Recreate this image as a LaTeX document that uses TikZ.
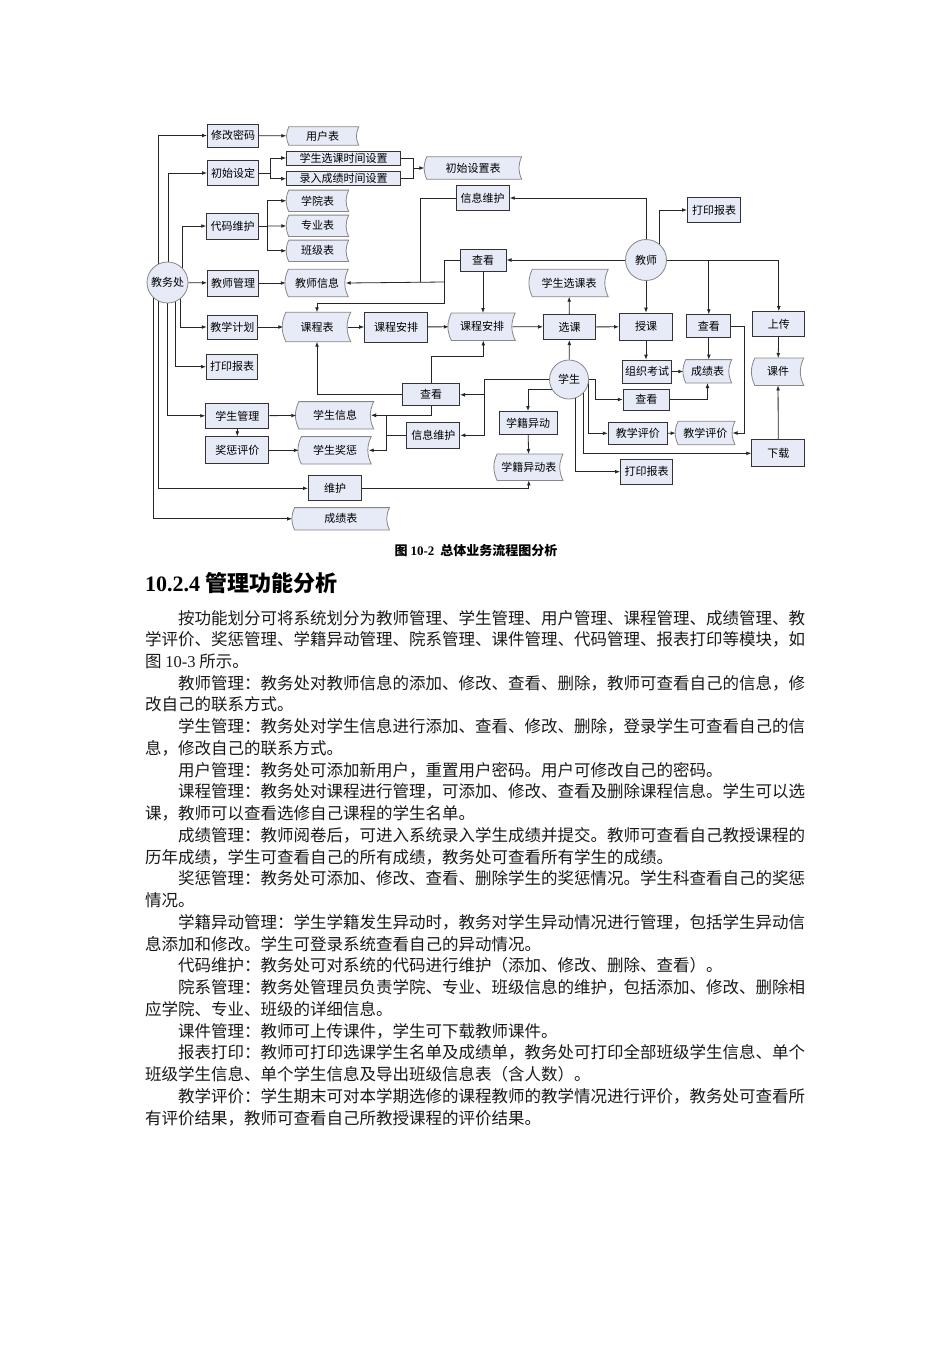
\documentclass[tikz,border=0pt]{standalone}
\usepackage{fontspec}
\setmainfont{Noto Sans CJK SC}
\newfontfamily\tnr{Liberation Serif}
\usetikzlibrary{positioning,arrows.meta,backgrounds,calc}
\XeTeXlinebreaklocale "zh"
\XeTeXlinebreakskip=0pt plus 2pt
\definecolor{boxfill}{RGB}{231,235,247}
\definecolor{rim}{RGB}{135,135,135}
% full lines of the body text
\newcommand{\jl}[1]{\hbox to 661pt{#1}}
\newcommand{\ji}[1]{\hbox to 628pt{#1}}

\begin{document}
\begin{tikzpicture}[
  x=1pt,y=-1pt,
  font=\fontsize{11pt}{12pt}\selectfont,
  n/.style={draw=black!80,line width=1pt,fill=boxfill,minimum height=25pt,inner sep=0pt,align=center},
  db/.style={minimum height=22pt,inner sep=0pt,align=center},
  ent/.style={circle,draw=rim,line width=0.8pt,fill=boxfill,minimum size=41pt,inner sep=0pt},
  conn/.style={->,draw=black!85,line width=0.8pt},
  wire/.style={draw=black!85,line width=0.8pt},
  txt/.style={anchor=base west,inner sep=0pt,text=black!90,font=\fontsize{16.5pt}{20pt}\selectfont},
  >={Latex[length=5pt,width=3.8pt]}
]
\useasboundingbox (0,0) rectangle (950,1345);

% actors
\node[ent] (jwc) at (167.5,282.5) {教务处};
\node[ent] (js) at (646,260) {教师};
\node[ent,minimum size=39pt] (xs) at (569,379.5) {学生};

% processes
\node[n,minimum width=51pt,minimum height=23pt] (xgmm) at (233,135.5) {修改密码};
\node[n,minimum width=51pt] (csd) at (233,173) {初始设定};
\node[n,minimum width=114pt,minimum height=14pt] (xksz) at (343.7,158) {学生选课时间设置};
\node[n,minimum width=114pt,minimum height=14pt] (lrsz) at (343.7,178.7) {录入成绩时间设置};
\node[n,minimum width=51.5pt,minimum height=26pt] (dmwh) at (232.5,226) {代码维护};
\node[n,minimum width=51pt,minimum height=26pt] (jsgl) at (233,283) {教师管理};
\node[n,minimum width=50pt,minimum height=24pt] (jxjh) at (232.3,327) {教学计划};
\node[n,minimum width=51pt] (dybb1) at (232,366.7) {打印报表};
\node[n,minimum width=63pt] (xsgl) at (237.3,415.8) {学生管理};
\node[n,minimum width=63pt,minimum height=27pt] (jcpj) at (237.3,450.3) {奖惩评价};
\node[n,minimum width=53pt] (wh) at (335,488.3) {维护};
\node[n,minimum width=62.7pt,minimum height=30pt] (kcap) at (396,327) {课程安排};
\node[n,minimum width=53pt] (xxwh1) at (482.7,198) {信息维护};
\node[n,minimum width=46pt,minimum height=22pt] (ck1) at (483,260) {查看};
\node[n,minimum width=52pt] (xk) at (569.5,327) {选课};
\node[n,minimum width=53pt,minimum height=27pt] (sk) at (646,326.7) {授课};
\node[n,minimum width=44pt,minimum height=23pt] (ck2) at (708.8,326.3) {查看};
\node[n,minimum width=52pt] (sc) at (778.8,324.2) {上传};
\node[n,minimum width=53pt] (dybb2) at (714,210) {打印报表};
\node[n,minimum width=49pt,minimum height=23pt] (zzks) at (647,371.7) {组织考试};
\node[n,minimum width=46pt,minimum height=21pt] (ck4) at (646.3,399.5) {查看};
\node[n,minimum width=57pt,minimum height=22pt] (ck3) at (431,394.8) {查看};
\node[n,minimum width=53pt,minimum height=26pt] (xxwh2) at (433.3,435.3) {信息维护};
\node[n,minimum width=58pt,minimum height=23pt] (xjyd) at (528,423) {学籍异动};
\node[n,minimum width=59pt,minimum height=22pt] (jxpj) at (637.8,433.3) {教学评价};
\node[n,minimum width=53pt,minimum height=27pt] (xz) at (778.3,453.3) {下载};
\node[n,minimum width=52pt] (dybb3) at (646.5,471.7) {打印报表};

% data stores
\node[db,minimum width=72pt,minimum height=18pt] (yhb) at (322.5,136) {用户表};
\node[db,minimum width=97pt] (csszb) at (473,168) {初始设置表};
\node[db,minimum width=62pt,minimum height=21pt] (xyb) at (317.5,200.8) {学院表};
\node[db,minimum width=62pt,minimum height=21pt] (zyb) at (317.5,225.8) {专业表};
\node[db,minimum width=62pt,minimum height=21pt] (bjb) at (317.5,250.8) {班级表};
\node[db,minimum width=62pt,minimum height=27pt] (jsxx) at (317,283) {教师信息};
\node[db,minimum width=67pt,minimum height=29pt] (kcb) at (317,327) {课程表};
\node[db,minimum width=66pt,minimum height=27pt] (kcapb) at (482,326.7) {课程安排};
\node[db,minimum width=78pt,minimum height=27pt] (xxkb) at (569,283) {学生选课表};
\node[db,minimum width=48pt,minimum height=23pt] (cjb2) at (707.5,371.3) {成绩表};
\node[db,minimum width=51pt,minimum height=27pt] (kj) at (778,371.7) {课件};
\node[db,minimum width=77pt,minimum height=27pt] (xsxx) at (335,415.3) {学生信息};
\node[db,minimum width=72pt,minimum height=27pt] (xsjc) at (335,450.3) {学生奖惩};
\node[db,minimum width=68pt,minimum height=26pt] (xjydb) at (528.8,467.2) {学籍异动表};
\node[db,minimum width=59pt,minimum height=23pt] (pjb) at (705.3,433) {教学评价};
\node[db,minimum width=97pt,minimum height=22pt] (cjb) at (340.8,518.8) {成绩表};

\coordinate (f1) at (270,173);
\coordinate (f2) at (413,168);
\coordinate (f3) at (267.7,226);
\coordinate (f4) at (444,282);
\coordinate (f5) at (444,303);
\coordinate (f6) at (420,282);
\coordinate (f7) at (744.3,433);
\coordinate (f8) at (595,379.5);
\coordinate (f9) at (484,379.5);
\coordinate (f10) at (483.3,356.7);
\coordinate (f11) at (386,435.3);

\begin{scope}[on background layer]
\fill[white] (0,0) rectangle (950,1345);
\foreach \k in {yhb,csszb,xyb,zyb,bjb,jsxx,kcb,kcapb,xxkb,cjb2,kj,xsxx,xsjc,xjydb,pjb,cjb}
  \filldraw[fill=boxfill,draw=rim,line width=0.8pt]
    ([xshift=2.5pt]\k.north west) -- (\k.north east) to[bend right=25] (\k.south east)
    -- ([xshift=2.5pt]\k.south west) to[bend left=25] ([xshift=2.5pt]\k.north west) -- cycle;

% 教务处
\draw[conn] ($(jwc)+(-9.2,0)$) |- (xgmm);
\draw[conn] ($(jwc)+(0.8,0)$) |- (csd);
\draw[conn] ($(jwc)+(15.2,0)$) |- (dmwh);
\draw[conn] (jwc) -- (jsgl);
\draw[conn] ($(jwc)+(13.2,0)$) |- (jxjh);
\draw[conn] ($(jwc)+(8.2,0)$) |- (dybb1);
\draw[conn] ($(jwc)+(0.2,0)$) |- (xsgl);
\draw[conn] ($(jwc)+(-9.2,0)$) |- (wh);
\draw[conn] ($(jwc)+(-14.2,0)$) |- (cjb);

\draw[conn] (xgmm) -- (yhb);
\draw[conn] (csd) -- (f1) |- (xksz);
\draw[conn] (f1) |- (lrsz);
\draw[wire] (xksz) -| (f2);
\draw[wire] (lrsz) -| (f2);
\draw[conn] (f2) -- (csszb);
\draw[wire] (dmwh) -- (f3);
\draw[conn] (f3) |- (xyb);
\draw[conn] (f3) -- (zyb);
\draw[conn] (f3) |- (bjb);
\draw[conn] (jsgl) -- (jsxx);
\draw[conn] (jxjh) -- (kcb);
\draw[conn] ([xshift=-2.5pt]kcb.east) -- (kcap);
\draw[conn] (kcap) -- (kcapb);
\draw[conn] ([xshift=-2.5pt]kcapb.east) -- (xk);
\draw[conn] (xk) -- (xxkb);
\draw[conn] (xk) -- (sk);

% 教师
\draw[conn] (js) |- (xxwh1);
\draw[conn] ($(js)+(13.3,0)$) |- (dybb2);
\draw[conn] (js) -- (ck1);
\draw[conn] (js) -- (sk);
\draw[conn] (js) -| (ck2);
\draw[conn] (js) -| (sc);
\draw[wire] (xxwh1) -| (f6);
\draw[conn] (ck1) -| (f5) -| (kcb);
\draw[conn] (f4) -- ([xshift=-2.5pt]jsxx.east);
\draw[conn] (ck1) -- (ck1 |- kcapb.north);
\draw[conn] (sk) -- (sk |- zzks.north);
\draw[conn] (zzks) -- (cjb2);
\draw[conn] (ck2) -- (ck2 |- cjb2.north);
\draw[conn] (ck2) -| (f7) -- ([xshift=-2.5pt]pjb.east);
\draw[conn] (sc) -- (kj);
\draw[conn] (xz) -- (kj);

% 学生
\draw[conn] (xs) -- (xk);
\draw[conn] (xs) -- (f8) |- (ck4);
\draw[conn] (ck4) -| (cjb2);
\draw[conn] ($(xs)+(19,0)$) |- (jxpj);
\draw[conn] (jxpj) -- (pjb);
\draw[conn] ($(xs)+(14.3,0)$) |- (xz);
\draw[conn] ($(xs)+(6.7,0)$) |- (dybb3);
\draw[conn] ($(xs)+(0,9.5)$) -| (xjyd);
\draw[conn] (xjyd) -- (xjydb);
\draw[wire] (xs) -- (f9);
\draw[conn] (f9) |- (ck3);
\draw[conn] (f9) |- (xxwh2);
\draw[wire] (ck3) |- (f10);
\draw[conn] (f10) -- (f10 |- kcapb.south);
\draw[conn] (ck3) -| (kcb);
\draw[conn] (ck3) |- ([xshift=-2.5pt]xsxx.east);
\draw[wire] (xxwh2) -- (f11);
\draw[conn] (f11) |- ([xshift=-2.5pt]xsxx.east);
\draw[conn] (f11) |- ([xshift=-2.5pt]xsjc.east);
\draw[conn] (xsgl) -- (xsxx);
\draw[conn] (xsgl) -- (jcpj);
\draw[conn] (jcpj) -- (xsjc);
\draw[conn] (wh) -| (xjydb);
\end{scope}

% caption, heading and body
\node[anchor=base,inner sep=0pt,font=\fontsize{13pt}{15pt}\selectfont\bfseries] (cap) at (476,555.5) {图 {\tnr 10-2}\ \ 总体业务流程图分析};
\node[anchor=base west,inner sep=0pt,font=\fontsize{22pt}{26pt}\selectfont\bfseries] (sec) at (145,591) {{\tnr 10.2.4} 管理功能分析};

\node[txt] (l1) at (178,624) {\ji{按功能划分可将系统划分为教师管理、学生管理、用户管理、课程管理、成绩管理、教}};
\node[txt] (l2) at (145,645.74) {\jl{学评价、奖惩管理、学籍异动管理、院系管理、课件管理、代码管理、报表打印等模块，如}};
\node[txt] (l3) at (145,667.48) {图 {\tnr 10-3} 所示。};
\node[txt] (l4) at (178,689.22) {\ji{教师管理：教务处对教师信息的添加、修改、查看、删除，教师可查看自己的信息，修}};
\node[txt] (l5) at (145,710.96) {改自己的联系方式。};
\node[txt] (l6) at (178,732.7) {\ji{学生管理：教务处对学生信息进行添加、查看、修改、删除，登录学生可查看自己的信}};
\node[txt] (l7) at (145,754.44) {息，修改自己的联系方式。};
\node[txt] (l8) at (178,776.18) {用户管理：教务处可添加新用户，重置用户密码。用户可修改自己的密码。};
\node[txt] (l9) at (178,797.92) {\ji{课程管理：教务处对课程进行管理，可添加、修改、查看及删除课程信息。学生可以选}};
\node[txt] (l10) at (145,819.66) {课，教师可以查看选修自己课程的学生名单。};
\node[txt] (l11) at (178,841.4) {\ji{成绩管理：教师阅卷后，可进入系统录入学生成绩并提交。教师可查看自己教授课程的}};
\node[txt] (l12) at (145,863.14) {历年成绩，学生可查看自己的所有成绩，教务处可查看所有学生的成绩。};
\node[txt] (l13) at (178,884.88) {\ji{奖惩管理：教务处可添加、修改、查看、删除学生的奖惩情况。学生科查看自己的奖惩}};
\node[txt] (l14) at (145,906.62) {情况。};
\node[txt] (l15) at (178,928.36) {\ji{学籍异动管理：学生学籍发生异动时，教务对学生异动情况进行管理，包括学生异动信}};
\node[txt] (l16) at (145,950.1) {息添加和修改。学生可登录系统查看自己的异动情况。};
\node[txt] (l17) at (178,971.84) {代码维护：教务处可对系统的代码进行维护（添加、修改、删除、查看）。};
\node[txt] (l18) at (178,993.58) {\ji{院系管理：教务处管理员负责学院、专业、班级信息的维护，包括添加、修改、删除相}};
\node[txt] (l19) at (145,1015.32) {应学院、专业、班级的详细信息。};
\node[txt] (l20) at (178,1037.06) {课件管理：教师可上传课件，学生可下载教师课件。};
\node[txt] (l21) at (178,1058.8) {\ji{报表打印：教师可打印选课学生名单及成绩单，教务处可打印全部班级学生信息、单个}};
\node[txt] (l22) at (145,1080.54) {班级学生信息、单个学生信息及导出班级信息表（含人数）。};
\node[txt] (l23) at (178,1102.28) {\ji{教学评价：学生期末可对本学期选修的课程教师的教学情况进行评价，教务处可查看所}};
\node[txt] (l24) at (145,1124.02) {有评价结果，教师可查看自己所教授课程的评价结果。};
\end{tikzpicture}
\end{document}
